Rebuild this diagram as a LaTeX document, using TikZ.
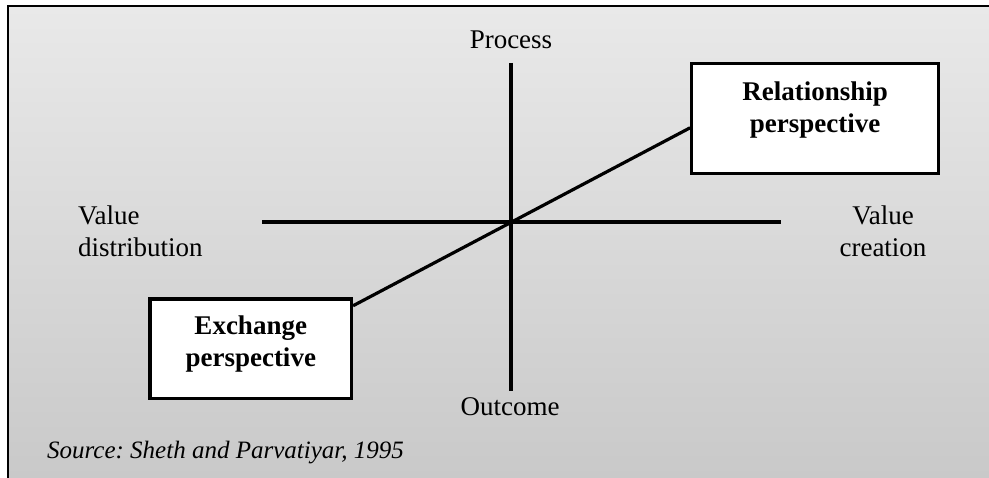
\documentclass[tikz,border=0pt]{standalone}
\usepackage{fontspec}
\setmainfont{Liberation Serif}
\frenchspacing
\definecolor{paneltop}{HTML}{E9E9E9}
\definecolor{panelbottom}{HTML}{C9C9C9}
\begin{document}
\begin{tikzpicture}[x=1pt,y=-1pt,
  lbl/.style={font=\fontsize{27}{32}\selectfont, inner sep=0pt, align=center},
  boxtxt/.style={font=\fontsize{27}{32}\selectfont\bfseries, inner sep=0pt, align=center},
  pbox/.style={draw=black, line width=3.2pt, fill=white, inner sep=0pt},
  axisline/.style={line width=3.2pt},
  frameline/.style={line width=2pt},
]
\useasboundingbox (0,0) rectangle (989,478);

% panel with a soft vertical gradient, framed on top and left
\shade[top color=paneltop, bottom color=panelbottom] (8.3,6) rectangle (989,478);
\draw[frameline] (8.3,478) -- (8.3,6) -- (989,6);

% axes
\coordinate (ptop) at (511,63);
\coordinate (pbot) at (511,391);
\coordinate (vleft) at (262,222);
\coordinate (vright) at (781,222);
\draw[axisline] (ptop) -- (pbot);
\draw[axisline] (vleft) -- (vright);

% axis labels
\node[lbl, anchor=base] (process) at (511,49) {Process};
\node[lbl, anchor=base] (outcome) at (510,416) {Outcome};
\node[lbl, anchor=north west, align=left] (vdist) at (78,205.6) {Value\\distribution};
\node[lbl, anchor=north] (vcreate) at (883,205.6) {Value\\creation};

% perspective boxes
\node[pbox, minimum width=247pt, minimum height=110pt] (rel) at (815.2,118.3) {};
\node[boxtxt, anchor=north] (reltext) at (815.2,81.2) {Relationship\\perspective};
\node[pbox, minimum width=201.5pt, minimum height=99.5pt] (exch) at (250.75,348.75) {};
\node[boxtxt, anchor=north] (exchtext) at (250.75,315.2) {Exchange\\perspective};

% diagonal linking the two perspectives through the origin
\draw[axisline] ([yshift=43pt]exch.east) -- ([yshift=-9.5pt]rel.west);

% source note
\node[inner sep=0pt, anchor=base west, font=\fontsize{25}{30}\selectfont\itshape] (source) at (47,459) {Source: Sheth and Parvatiyar, 1995};
\end{tikzpicture}
\end{document}
